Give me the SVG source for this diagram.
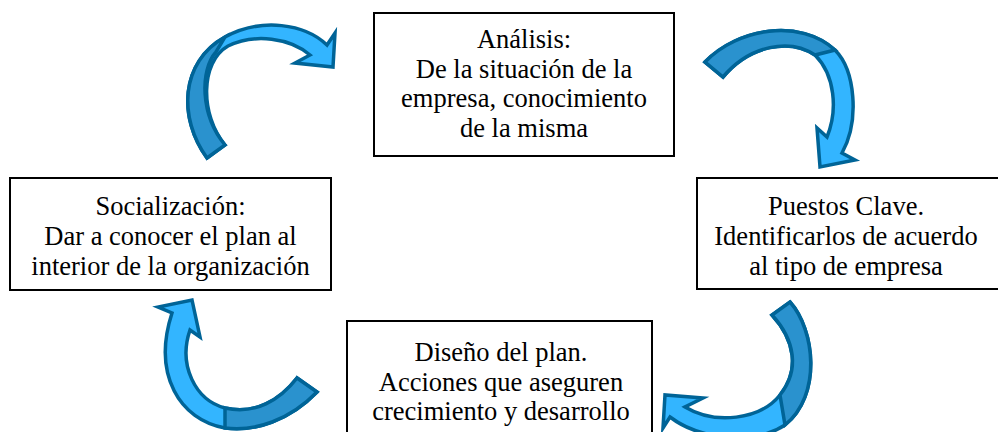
<svg xmlns="http://www.w3.org/2000/svg" width="998" height="432" viewBox="0 0 998 432">
<style>
.box{fill:#ffffff;stroke:#000000;stroke-width:2}
.t{font-family:"Liberation Serif","Times New Roman",serif;font-size:26.5px;fill:#000000;text-anchor:middle}
.lt{fill:#33B5FF;stroke:#006497;stroke-width:3.5;stroke-linejoin:miter}
.dk{fill:#2A92CE;stroke:#006497;stroke-width:3.5;stroke-linejoin:miter}
</style>
<rect width="998" height="432" fill="#ffffff"/>
<g id="connectors">
<g id="arrow-top-left">
<path class="lt" d="M207,158 C178,118 180,62 225,37 C262,17 305,24 327,45 L335,33 L333,67 L295,63 L310,55 C290,38 255,33 228,46 C200,62 200,115 225,145 Z"/>
<path class="dk" d="M207,158 C178,118 180,62 225,37 L216,52 C200,70 200,115 225,145 Z"/>
</g>
<g id="arrow-top-right">
<path class="lt" d="M705,62 C738,28 800,18 835,50 C855,70 860,120 842,153 L855,160 L820,167 L817,128 L827,137 C838,110 835,75 815,55 C790,38 750,45 723,77 Z"/>
<path class="dk" d="M705,62 C738,28 800,18 835,50 L815,55 C790,38 750,45 723,77 Z"/>
</g>
<g id="arrow-bottom-right">
<path class="lt" d="M790,302 C815,330 822,395 785,425 C755,445 700,440 670,417 L663,428 L665,395 L703,398 L685,407 C715,425 760,420 780,395 C800,370 795,340 772,315 Z"/>
<path class="dk" d="M790,302 C815,330 822,395 785,425 L780,395 C800,370 795,340 772,315 Z"/>
</g>
<g id="arrow-bottom-left">
<path class="lt" d="M317,392 C290,420 255,432 225,428 C180,420 152,375 172,313 L158,307 L192,300 L200,337 L190,330 C178,365 195,400 225,408 C255,415 280,400 297,378 Z"/>
<path class="dk" d="M317,392 C290,420 255,432 225,428 L225,408 C255,415 280,400 297,378 Z"/>
</g>
</g>
<g id="node-analisis">
<rect class="box" x="374" y="13" width="300" height="143"/>
<text class="t" x="524" y="48">Análisis:</text>
<text class="t" x="524" y="78">De la situación de la</text>
<text class="t" x="524" y="107">empresa, conocimiento</text>
<text class="t" x="524" y="137">de la misma</text>
</g>
<g id="node-socializacion">
<rect class="box" x="10" y="178" width="321" height="112"/>
<text class="t" x="170.5" y="215">Socialización:</text>
<text class="t" x="170.5" y="245">Dar a conocer el plan al</text>
<text class="t" x="170.5" y="275">interior de la organización</text>
</g>
<g id="node-puestos">
<rect class="box" x="697" y="178" width="302" height="111"/>
<text class="t" x="846" y="215">Puestos Clave.</text>
<text class="t" x="846" y="245">Identificarlos de acuerdo</text>
<text class="t" x="846" y="275">al tipo de empresa</text>
</g>
<g id="node-diseno">
<rect class="box" x="347" y="321" width="305" height="120"/>
<text class="t" x="501" y="361">Diseño del plan.</text>
<text class="t" x="501" y="391">Acciones que aseguren</text>
<text class="t" x="501" y="420">crecimiento y desarrollo</text>
</g>
</svg>
